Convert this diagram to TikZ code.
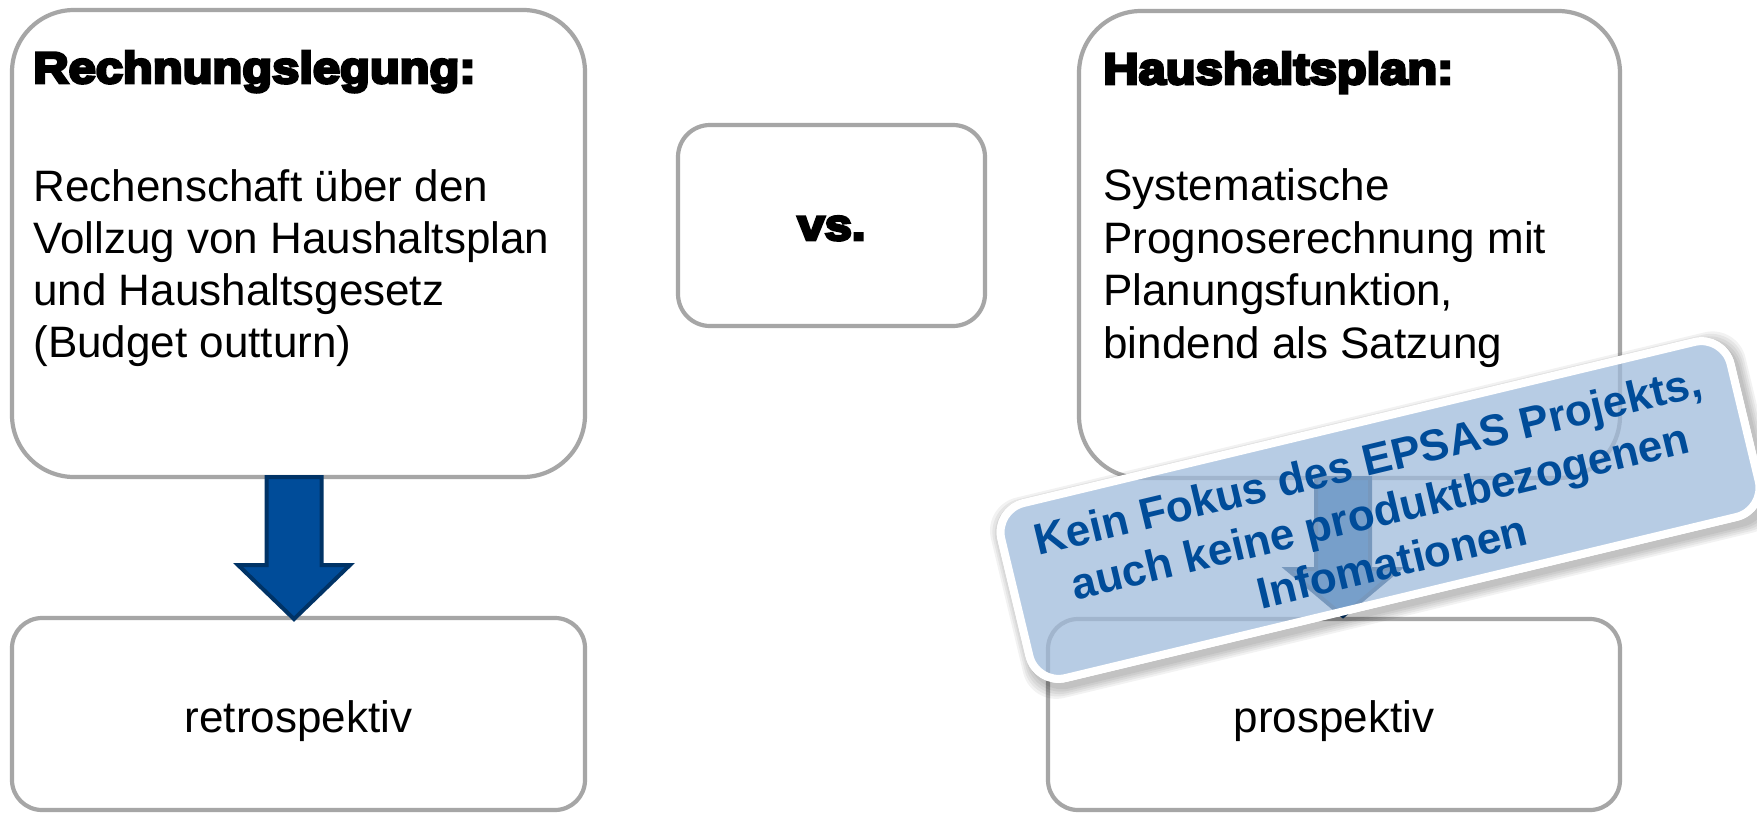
\documentclass[tikz,border=0pt]{standalone}
\usepackage{fontspec}
\setmainfont{Liberation Sans}
\newfontfamily\blackfont[FakeStretch=1.11,FakeBold=6.5]{Liberation Sans Bold}
\newfontfamily\boldsans{Liberation Sans Bold}
\definecolor{boxgray}{RGB}{166,166,166}
\definecolor{arrowblue}{RGB}{0,76,153}
\definecolor{arrowdark}{RGB}{0,51,102}
\definecolor{ovfill}{RGB}{160,187,219}
\definecolor{ovtext}{RGB}{0,76,153}
\newcommand\downarrowpoly[5]{% x-center, top, head base, tip, shaft half
  \draw[bigarrow] (#1-#5,#2) -- (#1+#5,#2) -- (#1+#5,#3) -- (#1+56,#3) -- (#1,#4)
    -- (#1-56,#3) -- (#1-#5,#3) -- cycle;}
\begin{document}
\begin{tikzpicture}[x=0.5pt,y=-0.5pt,
  roundbox/.style={draw=boxgray, line width=2.1pt, fill=white, rectangle, inner sep=0pt},
  titletext/.style={anchor=base west, inner sep=0pt, font=\blackfont\fontsize{22}{26}\selectfont},
  bodytext/.style={anchor=base west, inner sep=0pt, font=\fontsize{22}{26}\selectfont},
  centertext/.style={anchor=base, inner sep=0pt, font=\fontsize{22}{26}\selectfont},
  bigarrow/.style={fill=arrowblue, draw=arrowdark, line width=2pt, line join=miter},
]
\useasboundingbox (0,0) rectangle (1757,814);
\fill[white] (0,0) rectangle (1757,814);

% boxes
\node[roundbox, rounded corners=31pt, minimum width=286.5pt, minimum height=233.5pt] (rl) at (298.5,243.5) {};
\node[roundbox, rounded corners=15pt, minimum width=286.5pt, minimum height=96pt] (retro) at (298.5,714) {};
\node[roundbox, rounded corners=16pt, minimum width=153.5pt, minimum height=100.5pt] (vs) at (831.5,225.5) {};
\node[roundbox, rounded corners=31pt, minimum width=270.5pt, minimum height=233.5pt] (hp) at (1349.5,244.5) {};
\node[roundbox, rounded corners=15pt, minimum width=286pt, minimum height=95.5pt] (prosp) at (1334,714.5) {};

% texts left
\node[titletext] (rlT) at (33,83) {Rechnungslegung:};
\node[bodytext] (rl1) at (33,201) {Rechenschaft über den};
\node[bodytext] (rl2) at (33,253) {Vollzug von Haushaltsplan};
\node[bodytext] (rl3) at (33,305) {und Haushaltsgesetz};
\node[bodytext] (rl4) at (33,357) {(Budget outturn)};
% texts right
\node[titletext] (hpT) at (1103,84) {Haushaltsplan:};
\node[bodytext] (hp1) at (1103,200) {Systematische};
\node[bodytext] (hp2) at (1103,253) {Prognoserechnung mit};
\node[bodytext] (hp3) at (1103,305) {Planungsfunktion,};
\node[bodytext] (hp4) at (1103,358) {bindend als Satzung};
% vs and bottom
\node[centertext, font=\blackfont\fontsize{22}{26}\selectfont] (vsT) at (831.5,240) {vs.};
\node[centertext] (retroT) at (298.5,732) {retrospektiv};
\node[centertext] (prospT) at (1334,732) {prospektiv};

% arrows
\downarrowpoly{294}{477}{565}{619}{27.5}
\downarrowpoly{1343}{478}{569}{616}{27}

% overlay
\begin{scope}[shift={(1380,510)}, rotate=13.5]
  \foreach \k in {1,3,5,7,9}
    \fill[black, opacity=0.05, even odd rule, rounded corners=17pt]
      (-379+3-\k,-94+6-\k) rectangle (379+3+\k,94+6+\k)
      (-379,-94) rectangle (379,94);
  \draw[draw=white, line width=4pt, fill=ovfill, fill opacity=0.75, rounded corners=15pt]
    (-375,-90) rectangle (375,90);
\end{scope}
\node[rotate=13.5, align=center, inner sep=0pt, text=ovtext,
      font=\boldsans\fontsize{22}{26}\selectfont] (focus) at (1380,511)
  {Kein Fokus des EPSAS Projekts,\\auch keine produktbezogenen\\Infomationen};
\end{tikzpicture}
\end{document}
